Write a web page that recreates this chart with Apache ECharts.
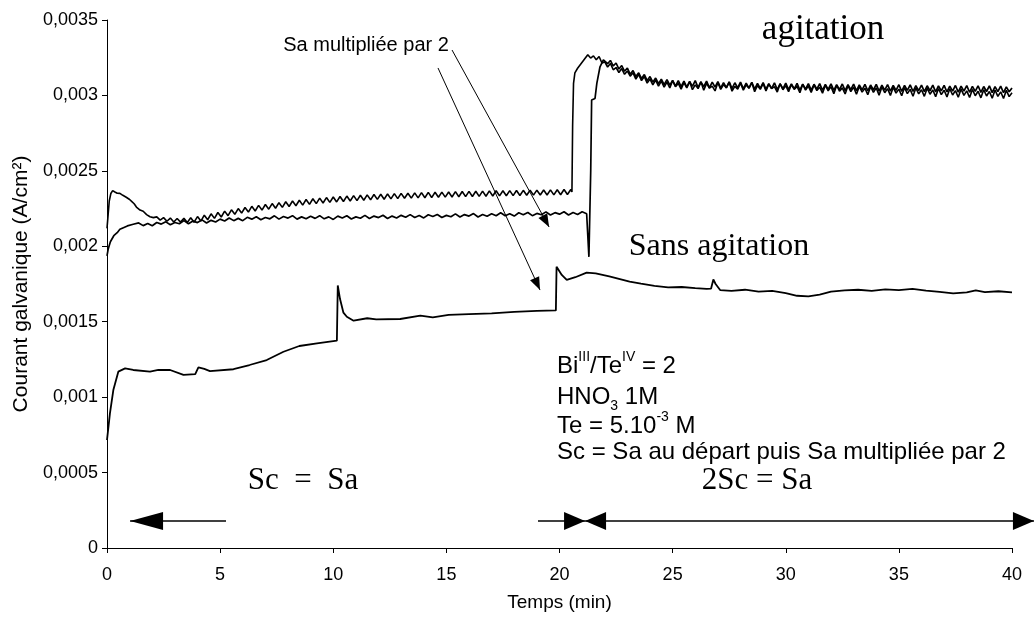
<!DOCTYPE html>
<html>
<head>
<meta charset="utf-8">
<script src="https://cdn.jsdelivr.net/npm/echarts@6/dist/echarts.min.js"></script>
<style>
  html, body { margin: 0; padding: 0; background: #fff; }
  #chart { width: 1034px; height: 622px; }
</style>
</head>
<body>
<div id="chart"></div>
<script>
// tick labels (French decimal comma)
const yTickLabels = ['0', '0,0005', '0,001', '0,0015', '0,002', '0,0025', '0,003', '0,0035'];
const xTickLabels = ['0', '5', '10', '15', '20', '25', '30', '35', '40'];

// agitation, first run (Sa doubled at ~20.5 min)
const curveA = [
  [0,0.002119],[0.05,0.00221],[0.1,0.0023],[0.17,0.00235],[0.25,0.002369],[0.35,0.00236],[0.45,0.002352],
  [0.57,0.002351],[0.7,0.002338],[0.85,0.002325],[1.0,0.00231],[1.1,0.002296],[1.2,0.002282],[1.3,0.00226],
  [1.46,0.00224],[1.6,0.002232],[1.75,0.00221],[1.9,0.002196],[2.05,0.00219],
  [2.2,0.002195],[2.35,0.002173],[2.5,0.00219],[2.65,0.002166],[2.8,0.002187],[2.95,0.002161],[3.1,0.002184],
  [3.25,0.00216],[3.4,0.002185],[3.55,0.002158],[3.7,0.002189],[3.85,0.00216],[4.0,0.002197],[4.15,0.002167],
  [4.3,0.002206],[4.45,0.002176],[4.6,0.002215],[4.75,0.002185],[4.9,0.002224],[5.05,0.002194],[5.2,0.002233],
  [5.35,0.002203],[5.5,0.002242],[5.65,0.002212],[5.8,0.00225],[5.95,0.00222],[6.1,0.002257],[6.25,0.002227],
  [6.4,0.002265],[6.55,0.002234],[6.7,0.002271],[6.85,0.00224],[7.0,0.002277],[7.15,0.002246],[7.3,0.002283],
  [7.45,0.002252],[7.6,0.002289],[7.75,0.002258],[7.9,0.002295],[8.05,0.002264],[8.2,0.0023],[8.35,0.002269],
  [8.5,0.002305],[8.65,0.002273],[8.8,0.00231],[8.95,0.002278],[9.1,0.002315],[9.25,0.002283],[9.4,0.002319],
  [9.55,0.002287],[9.7,0.002323],[9.85,0.002291],[10.0,0.002327],[10.15,0.002294],[10.3,0.00233],[10.45,0.002297],
  [10.6,0.002333],[10.75,0.0023],[10.9,0.002336],[11.05,0.002303],[11.2,0.002338],[11.35,0.002305],[11.5,0.002341],
  [11.65,0.002308],[11.8,0.002343],[11.95,0.002311],[12.1,0.002345],[12.25,0.002312],[12.4,0.002347],[12.55,0.002314],
  [12.7,0.002349],[12.85,0.002316],[13.0,0.002351],[13.15,0.002318],[13.3,0.002352],[13.45,0.002319],[13.6,0.002354],
  [13.75,0.002321],[13.9,0.002356],[14.05,0.002322],[14.2,0.002357],[14.35,0.002323],[14.5,0.002358],[14.65,0.002325],
  [14.8,0.002359],[14.95,0.002326],[15.1,0.00236],[15.25,0.002327],[15.4,0.002362],[15.55,0.002328],[15.7,0.002363],
  [15.85,0.002329],[16.0,0.002364],[16.15,0.00233],[16.3,0.002365],[16.45,0.002331],[16.6,0.002366],[16.75,0.002332],
  [16.9,0.002367],[17.05,0.002333],[17.2,0.002368],[17.35,0.002334],[17.5,0.002368],[17.65,0.002335],[17.8,0.002369],
  [17.95,0.002336],[18.1,0.00237],[18.25,0.002337],[18.4,0.002371],[18.55,0.002338],[18.7,0.002371],[18.85,0.002339],
  [19.0,0.002372],[19.15,0.00234],[19.3,0.002373],[19.45,0.00234],[19.6,0.002374],[19.75,0.002341],[19.9,0.002375],
  [20.05,0.002342],[20.2,0.002376],[20.35,0.002343],[20.5,0.002376],
  [20.55,0.00236],[20.58,0.0028],[20.62,0.00308],[20.68,0.00315],[20.8,0.00318],[20.95,0.00321],[21.1,0.00324],
  [21.25,0.00327],[21.375,0.003248],[21.5,0.003262],[21.625,0.003236],[21.75,0.003258],[21.875,0.003215],[22,0.003222],
  [22.125,0.003188],[22.25,0.003212],[22.375,0.00317],[22.5,0.003185],[22.625,0.003152],[22.75,0.003178],[22.875,0.00314],
  [23,0.003162],[23.125,0.003128],[23.25,0.00315],[23.375,0.003108],[23.5,0.00314],[23.625,0.003098],[23.75,0.003125],
  [23.875,0.003082],[24,0.003108],[24.125,0.00307],[24.25,0.003102],[24.375,0.003062],[24.5,0.003095],[24.625,0.003055],
  [24.75,0.003088],[24.875,0.00305],[25,0.003098],[25.125,0.003058],[25.25,0.00308],[25.375,0.003042],[25.5,0.003085],
  [25.625,0.00305],[25.75,0.003092],[25.875,0.003038],[26,0.00307],[26.125,0.003045],[26.25,0.00309],[26.375,0.003035],
  [26.5,0.00308],[26.625,0.003048],[26.75,0.003062],[26.875,0.00303],[27,0.003085],[27.125,0.00304],[27.25,0.003072],
  [27.375,0.00305],[27.5,0.003088],[27.625,0.003028],[27.75,0.00306],[27.875,0.003042],[28,0.003082],[28.125,0.003035],
  [28.25,0.00307],[28.375,0.003048],[28.5,0.003085],[28.625,0.003025],[28.75,0.003066],[28.875,0.00304],[29,0.00308],
  [29.125,0.00303],[29.25,0.003075],[29.375,0.003045],[29.5,0.003058],[29.625,0.003022],[29.75,0.003078],[29.875,0.003038],
  [30,0.003065],[30.125,0.003025],[30.25,0.003072],[30.375,0.00304],[30.5,0.00306],[30.625,0.003018],[30.75,0.003074],
  [30.875,0.003035],[31,0.003062],[31.125,0.00302],[31.25,0.00307],[31.375,0.003032],[31.5,0.003055],[31.625,0.003015],
  [31.75,0.003068],[31.875,0.00303],[32,0.003058],[32.125,0.003012],[32.25,0.003066],[32.375,0.003028],[32.5,0.00305],
  [32.625,0.00301],[32.75,0.003064],[32.875,0.003025],[33,0.003055],[33.125,0.003008],[33.25,0.00306],[33.375,0.003022],
  [33.5,0.003048],[33.625,0.003005],[33.75,0.003058],[33.875,0.00302],[34,0.00305],[34.125,0.003002],[34.25,0.003056],
  [34.375,0.003018],[34.5,0.003045],[34.625,0.003],[34.75,0.003054],[34.875,0.003015],[35,0.003042],[35.125,0.002998],
  [35.25,0.003052],[35.375,0.003012],[35.5,0.00304],[35.625,0.002995],[35.75,0.00305],[35.875,0.00301],[36,0.003038],
  [36.125,0.002994],[36.25,0.003048],[36.375,0.003008],[36.5,0.003036],[36.625,0.002992],[36.75,0.003046],[36.875,0.003005],
  [37,0.003034],[37.125,0.00299],[37.25,0.003044],[37.375,0.003003],[37.5,0.003032],[37.625,0.002988],[37.75,0.003042],
  [37.875,0.003],[38,0.00303],[38.125,0.002986],[38.25,0.00304],[38.375,0.002998],[38.5,0.003028],[38.625,0.002984],
  [38.75,0.003038],[38.875,0.002996],[39,0.003026],[39.125,0.002982],[39.25,0.003036],[39.375,0.002994],[39.5,0.003024],
  [39.625,0.00298],[39.75,0.003034],[39.875,0.002992],[40,0.003018]
];

// agitation, second run (Sa doubled at ~21.3 min)
const curveB = [
  [0,0.001937],[0.05,0.00198],[0.15,0.00203],[0.3,0.00207],[0.45,0.00209],[0.57,0.002113],[0.75,0.002125],
  [0.9,0.002135],[1.16,0.002146],
  [1.4,0.002155],[1.6,0.002137],[1.8,0.002151],[2.0,0.002136],[2.2,0.002158],[2.4,0.002147],[2.6,0.002162],
  [2.8,0.002143],[3.0,0.002158],[3.2,0.002149],[3.4,0.00217],[3.6,0.002149],[3.8,0.002167],[4.0,0.002157],
  [4.2,0.002175],[4.4,0.002154],[4.6,0.002172],[4.8,0.002161],[5.0,0.00218],[5.2,0.002168],[5.4,0.002188],
  [5.6,0.00217],[5.8,0.002185],[6.0,0.00217],[6.2,0.002192],[6.4,0.00218],[6.6,0.002196],[6.8,0.002176],
  [7.0,0.002191],[7.2,0.002182],[7.4,0.002202],[7.6,0.00218],[7.8,0.002197],[8.0,0.002187],[8.2,0.002203],
  [8.4,0.00218],[8.6,0.002195],[8.8,0.002182],[9.0,0.002199],[9.2,0.002185],[9.4,0.002203],[9.6,0.002182],
  [9.8,0.002195],[10.0,0.002178],[10.2,0.0022],[10.4,0.002187],[10.6,0.002202],[10.8,0.002181],[11.0,0.002195],
  [11.2,0.002186],[11.4,0.002205],[11.6,0.002184],[11.8,0.0022],[12.0,0.00219],[12.2,0.002206],[12.4,0.002184],
  [12.6,0.0022],[12.8,0.002188],[13.0,0.002205],[13.2,0.002192],[13.4,0.00221],[13.6,0.002191],[13.8,0.002204],
  [14.0,0.002188],[14.2,0.002209],[14.4,0.002197],[14.6,0.002211],[14.8,0.002191],[15.0,0.002205],[15.2,0.002196],
  [15.4,0.002215],[15.6,0.002194],[15.8,0.00221],[16.0,0.0022],[16.2,0.002217],[16.4,0.002194],[16.6,0.002211],
  [16.8,0.002199],[17.0,0.002216],[17.2,0.002203],[17.4,0.002222],[17.6,0.002203],[17.8,0.002216],[18.0,0.0022],
  [18.2,0.002222],[18.4,0.002209],[18.6,0.002224],[18.8,0.002203],[19.0,0.002218],[19.2,0.002209],[19.4,0.002228],
  [19.6,0.002207],[19.8,0.002223],[20.0,0.002213],[20.2,0.002229],[20.4,0.002207],[20.6,0.002224],[20.8,0.002211],
  [21.0,0.002229],[21.2,0.002216],[21.28,0.002225],
  [21.3,0.00193],[21.36,0.00193],[21.38,0.0025],[21.42,0.00297],[21.57,0.00298],[21.65,0.00308],[21.79,0.00319],
  [21.94,0.003235],
  [22.125,0.00321],[22.25,0.003232],[22.375,0.003195],[22.5,0.003215],[22.625,0.003175],[22.75,0.003198],[22.875,0.00316],
  [23,0.003182],[23.125,0.00314],[23.25,0.003165],[23.375,0.003125],[23.5,0.00315],[23.625,0.003112],[23.75,0.003138],
  [23.875,0.003098],[24,0.003125],[24.125,0.003088],[24.25,0.003115],[24.375,0.003078],[24.5,0.003108],[24.625,0.003072],
  [24.75,0.003105],[24.875,0.003068],[25,0.0031],[25.125,0.003062],[25.25,0.003098],[25.375,0.003058],[25.5,0.003095],
  [25.625,0.003055],[25.75,0.003092],[25.875,0.00306],[26,0.003098],[26.125,0.003052],[26.25,0.00309],[26.375,0.003058],
  [26.5,0.003095],[26.625,0.00305],[26.75,0.003088],[26.875,0.003055],[27,0.003092],[27.125,0.003048],[27.25,0.003085],
  [27.375,0.003052],[27.5,0.00309],[27.625,0.003045],[27.75,0.003084],[27.875,0.00305],[28,0.003088],[28.125,0.003044],
  [28.25,0.003082],[28.375,0.003048],[28.5,0.003086],[28.625,0.003042],[28.75,0.00308],[28.875,0.003046],[29,0.003085],
  [29.125,0.00304],[29.25,0.003078],[29.375,0.003045],[29.5,0.003083],[29.625,0.003039],[29.75,0.003077],[29.875,0.003044],
  [30,0.003082],[30.125,0.003038],[30.25,0.003076],[30.375,0.003043],[30.5,0.00308],[30.625,0.003036],[30.75,0.003075],
  [30.875,0.003042],[31,0.003079],[31.125,0.003035],[31.25,0.003074],[31.375,0.003041],[31.5,0.003078],[31.625,0.003034],
  [31.75,0.003073],[31.875,0.00304],[32,0.003077],[32.125,0.003033],[32.25,0.003072],[32.375,0.003039],[32.5,0.003076],
  [32.625,0.003032],[32.75,0.003071],[32.875,0.003038],[33,0.003075],[33.125,0.003031],[33.25,0.00307],[33.375,0.003037],
  [33.5,0.003074],[33.625,0.00303],[33.75,0.003069],[33.875,0.003036],[34,0.003073],[34.125,0.003029],[34.25,0.003068],
  [34.375,0.003035],[34.5,0.003072],[34.625,0.003028],[34.75,0.003067],[34.875,0.003034],[35,0.003071],[35.125,0.003027],
  [35.25,0.003066],[35.375,0.003033],[35.5,0.00307],[35.625,0.003026],[35.75,0.003065],[35.875,0.003032],[36,0.003069],
  [36.125,0.003025],[36.25,0.003064],[36.375,0.003031],[36.5,0.003068],[36.625,0.003024],[36.75,0.003063],[36.875,0.00303],
  [37,0.003067],[37.125,0.003023],[37.25,0.003062],[37.375,0.003029],[37.5,0.003066],[37.625,0.003022],[37.75,0.003061],
  [37.875,0.003028],[38,0.003065],[38.125,0.003021],[38.25,0.00306],[38.375,0.003027],[38.5,0.003064],[38.625,0.00302],
  [38.75,0.003059],[38.875,0.003026],[39,0.003063],[39.125,0.003019],[39.25,0.003058],[39.375,0.003025],[39.5,0.003062],
  [39.625,0.003018],[39.75,0.003057],[39.875,0.003024],[40,0.00305]
];

// sans agitation
const curveC = [
  [0,0.000716],[0.13,0.000893],[0.28,0.001047],[0.5,0.001169],[0.8,0.001191],[1.16,0.00118],[1.9,0.001169],
  [2.27,0.00118],[2.79,0.00118],[3.38,0.001147],[3.9,0.001153],[4.04,0.001198],[4.3,0.001187],[4.55,0.001173],
  [5.59,0.001185],[6.3,0.001213],[7.06,0.001246],[7.8,0.001301],[8.5,0.001339],[9.28,0.001357],[10.16,0.001374],
  [10.2,0.00174],[10.3,0.00165],[10.45,0.00156],[10.6,0.001533],[10.9,0.001507],[11.5,0.001523],[11.9,0.001516],
  [12.96,0.001518],[13.85,0.00154],[14.4,0.001529],[15.1,0.001545],[16,0.00155],[17,0.001555],[18,0.001565],
  [19,0.001572],[19.84,0.001575],[19.87,0.001865],[20.1,0.00181],[20.32,0.001777],[20.7,0.001795],[21.2,0.001825],
  [21.6,0.00182],[22.2,0.0018],[23.1,0.001765],[23.6,0.001752],[24.2,0.001738],[24.8,0.001728],[25.4,0.00173],
  [26,0.001722],[26.5,0.001718],[26.7,0.00172],[26.8,0.00178],[26.9,0.00175],[27.1,0.00171],[27.6,0.001705],
  [28.2,0.001712],[28.8,0.0017],[29.4,0.001705],[30,0.00169],[30.5,0.001672],[31,0.001668],[31.5,0.00168],
  [32,0.0017],[32.6,0.001708],[33.2,0.001712],[33.8,0.001705],[34.4,0.001715],[35,0.00171],[35.6,0.001718],
  [36.2,0.001706],[36.8,0.001698],[37.4,0.001688],[38,0.001694],[38.4,0.001708],[38.8,0.001696],[39.4,0.001702],
  [40,0.001695]
];

const SANS = 'Liberation Sans, Arial, sans-serif';
const SERIF = 'Liberation Serif, Times New Roman, serif';

const chart = echarts.init(document.getElementById('chart'));

const lineSeries = (data, width) => ({
  type: 'line',
  data: data,
  showSymbol: false,
  symbol: 'none',
  lineStyle: { color: '#000', width: width },
  animation: false
});

const option = {
  backgroundColor: '#fff',
  animation: false,
  grid: { left: 107, right: 22, top: 20, bottom: 74, containLabel: false, outerBoundsMode: 'none' },
  xAxis: {
    type: 'value', min: 0, max: 40, interval: 5,
    name: 'Temps (min)', nameLocation: 'middle', nameGap: 45,
    nameTextStyle: { color: '#000', fontSize: 19, fontFamily: SANS },
    axisLine: { lineStyle: { color: '#000', width: 1 } },
    axisTick: { show: true, length: 5, lineStyle: { color: '#000' } },
    splitLine: { show: false },
    axisLabel: {
      color: '#000', fontSize: 18, fontFamily: SANS, margin: 18,
      formatter: v => xTickLabels[Math.round(v / 5)]
    }
  },
  yAxis: {
    type: 'value', min: 0, max: 0.0035, interval: 0.0005,
    name: 'Courant galvanique (A/cm²)', nameLocation: 'middle', nameGap: 75,
    nameTextStyle: { color: '#000', fontSize: 21, fontFamily: SANS },
    axisLine: { show: true, lineStyle: { color: '#000', width: 1 } },
    axisTick: { show: true, length: 5, lineStyle: { color: '#000' } },
    splitLine: { show: false },
    axisLabel: {
      color: '#000', fontSize: 18, fontFamily: SANS, margin: 9,
      formatter: v => yTickLabels[Math.round(v / 0.0005)]
    }
  },
  series: [lineSeries(curveA, 1.6), lineSeries(curveB, 1.7), lineSeries(curveC, 1.8)]
};

chart.setOption(option);

// annotations, anchored in data space
const px = p => chart.convertToPixel({ gridIndex: 0 }, p);

function head(tip, from, len, half) {
  const dx = tip[0] - from[0], dy = tip[1] - from[1];
  const d = Math.hypot(dx, dy);
  const ux = dx / d, uy = dy / d;
  const bx = tip[0] - ux * len, by = tip[1] - uy * len;
  return {
    type: 'polygon', silent: true,
    shape: { points: [[tip[0], tip[1]], [bx - uy * half, by + ux * half], [bx + uy * half, by - ux * half]] },
    style: { fill: '#000' }
  };
}
function seg(a, b, w) {
  return { type: 'line', silent: true, shape: { x1: a[0], y1: a[1], x2: b[0], y2: b[1] }, style: { stroke: '#000', lineWidth: w } };
}
function txt(at, text, size, family, align, rich) {
  const p = px(at);
  return {
    type: 'text', silent: true, x: p[0], y: p[1],
    style: { text: text, fontSize: size, fontFamily: family, fill: '#000', align: align, verticalAlign: 'middle', rich: rich }
  };
}

const g = [];
// diagonal arrows from the "Sa multipliée par 2" label
const d1a = px([15.25, 0.003301]), d1b = px([19.54, 0.002128]);
const d2a = px([14.63, 0.003182]), d2b = px([19.14, 0.00171]);
g.push(seg(d1a, d1b, 1), head(d1b, d1a, 13, 5));
g.push(seg(d2a, d2b, 1), head(d2b, d2a, 13, 5));

// horizontal arrows near the bottom
const ya = 0.000179;
const l1 = px([5.26, ya]), l0 = px([1.02, ya]);
g.push(seg(l1, l0, 1.5), head(l0, l1, 33, 9));
const m0 = px([19.05, ya]), m1 = px([21.13, ya]);
g.push(seg(m0, m1, 1.5), head(m1, m0, 21, 9));
const r0 = px([21.13, ya]), r1 = px([40.97, ya]);
g.push(seg(r0, r1, 1.5), head(r0, r1, 21, 9), head(r1, r0, 21, 9));

// texts
g.push(txt([11.45, 0.003328], 'Sa multipliée par 2', 20, SANS, 'center'));
g.push(txt([31.65, 0.003434], 'agitation', 35, SERIF, 'center'));
g.push(txt([27.05, 0.001995], 'Sans agitation', 32, SERIF, 'center'));
g.push(txt([8.66, 0.000444], 'Sc  =  Sa', 31, SERIF, 'center'));
g.push(txt([28.73, 0.000444], '2Sc = Sa', 31, SERIF, 'center'));

const rich = {
  n: { fontSize: 24, fontFamily: SANS, lineHeight: 32 },
  s: { fontSize: 14, fontFamily: SANS, verticalAlign: 'top', lineHeight: 32 },
  b: { fontSize: 14, fontFamily: SANS, verticalAlign: 'bottom', lineHeight: 32 }
};
g.push(txt([19.89, 0.001206], '{n|Bi}{s|III}{n|/Te}{s|IV}{n| = 2}', 24, SANS, 'left', rich));
g.push(txt([19.89, 0.001001], '{n|HNO}{b|3}{n| 1M}', 24, SANS, 'left', rich));
g.push(txt([19.89, 0.000809], '{n|Te = 5.10}{s|-3}{n| M}', 24, SANS, 'left', rich));
g.push(txt([19.89, 0.000636], '{n|Sc = Sa au départ puis Sa multipliée par 2}', 24, SANS, 'left', rich));

chart.setOption({ graphic: g });
</script>
</body>
</html>
